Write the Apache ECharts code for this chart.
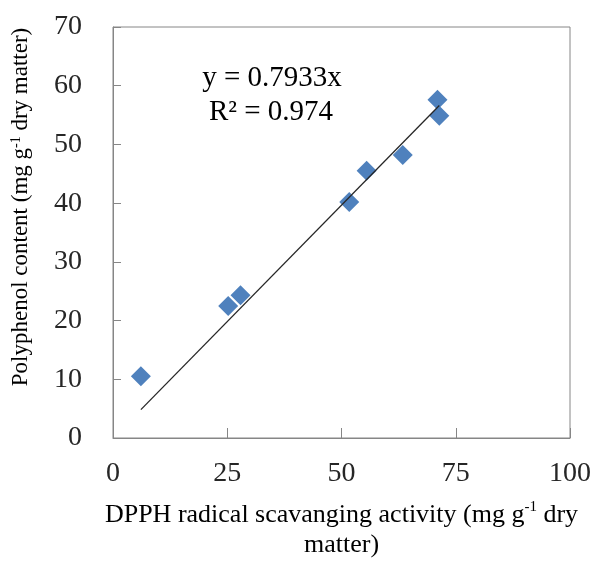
<!DOCTYPE html>
<html>
<head>
<meta charset="utf-8">
<script src="https://cdn.jsdelivr.net/npm/echarts@6/dist/echarts.min.js"></script>
<style>
  html, body { margin: 0; padding: 0; background: #fff; }
  #chart { width: 597px; height: 566px; }
</style>
</head>
<body>
<div id="chart"></div>
<script>
  // DPPH (x) vs polyphenol (y)
  let dpph = [6.1, 25.2, 27.9, 51.7, 55.5, 63.4, 71.0, 71.4];
  let polyphenol = [10.5, 22.5, 24.3, 40.2, 45.5, 48.2, 57.6, 54.9];
  let xTicks = [0, 25, 50, 75, 100];
  let yTicks = [0, 10, 20, 30, 40, 50, 60, 70];
  let slope = 0.7933;
  let eqText = ['y = 0.7933x', 'R² = 0.974'];

  let chart = echarts.init(document.getElementById('chart'));

  let points = dpph.map((x, i) => [x, polyphenol[i]]);
  let xMin = Math.min.apply(null, dpph);
  let xMax = Math.max.apply(null, dpph);
  let trend = [[xMin, slope * xMin], [xMax, slope * xMax]];

  let font = 'Liberation Serif';
  let axisGray = '#868686';

  let option = {
    animation: false,
    backgroundColor: '#fff',
    grid: {
      left: 113,
      right: 27,
      top: 27,
      bottom: 128,
      show: true,
      borderColor: axisGray,
      borderWidth: 1
    },
    xAxis: {
      type: 'value',
      min: xTicks[0],
      max: xTicks[xTicks.length - 1],
      interval: 25,
      name: 'DPPH radical scavanging activity (mg g{sup|-1} dry\nmatter)',
      nameLocation: 'middle',
      nameGap: 62,
      nameTextStyle: {
        fontFamily: font,
        fontSize: 26,
        color: '#000',
        lineHeight: 30,
        rich: {
          sup: { fontFamily: font, fontSize: 15, verticalAlign: 'top', padding: [0, 0, 10, 0], color: '#000' }
        }
      },
      axisLine: { lineStyle: { color: axisGray, width: 1 } },
      axisTick: { inside: true, length: 10, lineStyle: { color: axisGray } },
      axisLabel: {
        fontFamily: font,
        fontSize: 28,
        color: '#262626',
        margin: 22,
        formatter: v => xTicks.indexOf(v) >= 0 ? String(v) : ''
      },
      splitLine: { show: false }
    },
    yAxis: {
      type: 'value',
      min: yTicks[0],
      max: yTicks[yTicks.length - 1],
      interval: 10,
      axisLine: { show: true, lineStyle: { color: axisGray, width: 1 } },
      axisTick: { show: true, inside: true, length: 8, lineStyle: { color: axisGray } },
      axisLabel: {
        fontFamily: font,
        fontSize: 28,
        color: '#262626',
        margin: 31,
        formatter: v => yTicks.indexOf(v) >= 0 ? String(v) : ''
      },
      splitLine: { show: false }
    },
    graphic: [
      {
        type: 'text',
        x: 21,
        y: 207,
        rotation: Math.PI / 2,
        style: {
          text: 'Polyphenol content (mg g{sup|-1} dry matter)',
          fontFamily: font,
          fontSize: 23,
          fill: '#000',
          align: 'center',
          verticalAlign: 'middle',
          rich: {
            sup: { fontFamily: font, fontSize: 14, fill: '#000', padding: [0, 0, 9, 0] }
          }
        }
      },
      {
        type: 'text',
        x: 272,
        y: 78,
        style: {
          text: eqText[0],
          fontFamily: font,
          fontSize: 29,
          fill: '#000',
          align: 'center',
          verticalAlign: 'middle'
        }
      },
      {
        type: 'text',
        x: 271,
        y: 112,
        style: {
          text: eqText[1],
          fontFamily: font,
          fontSize: 29,
          fill: '#000',
          align: 'center',
          verticalAlign: 'middle'
        }
      }
    ],
    series: [
      {
        name: 'Polyphenol',
        type: 'scatter',
        data: points,
        symbol: 'diamond',
        symbolSize: 20,
        itemStyle: { color: '#4F81BD', opacity: 1 },
        z: 2
      },
      {
        name: 'Trend',
        type: 'line',
        data: trend,
        symbol: 'none',
        lineStyle: { color: '#262626', width: 1.3 },
        z: 3
      }
    ]
  };

  chart.setOption(option);
</script>
</body>
</html>
